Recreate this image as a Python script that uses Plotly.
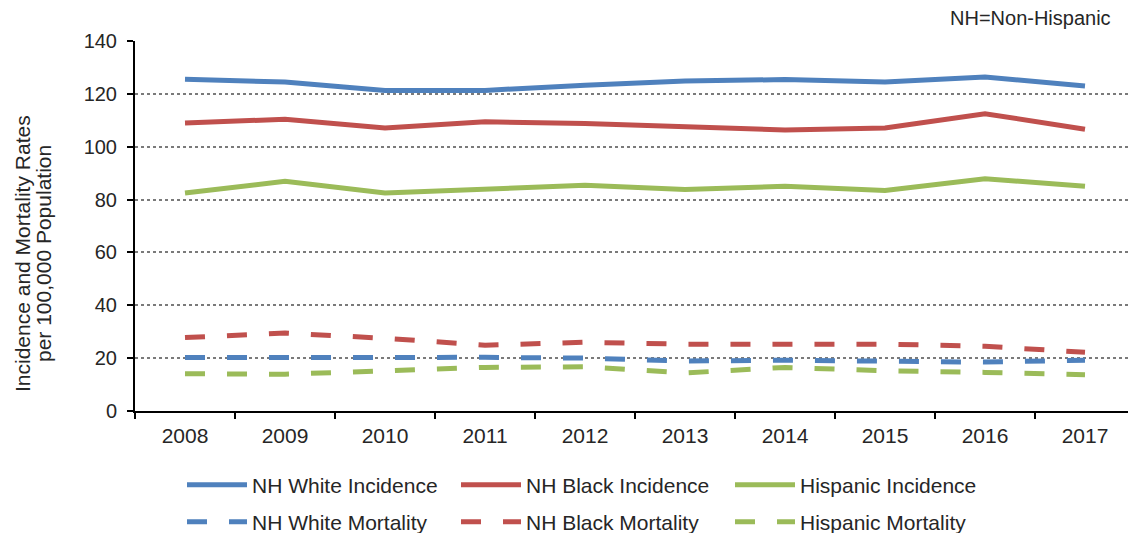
import plotly.graph_objects as go

years = ["2008", "2009", "2010", "2011", "2012", "2013", "2014", "2015", "2016", "2017"]

nh_white_incidence = [125.5, 124.5, 121.3, 121.3, 123.3, 124.9, 125.4, 124.5, 126.4, 123.0]
nh_black_incidence = [109.0, 110.4, 107.1, 109.4, 108.8, 107.5, 106.3, 107.1, 112.5, 106.6]
hispanic_incidence = [82.5, 86.9, 82.5, 84.0, 85.4, 83.8, 85.0, 83.4, 87.9, 85.0]

nh_white_mortality = [20.2, 20.3, 20.3, 20.3, 20.0, 18.9, 19.2, 18.8, 18.5, 19.2]
nh_black_mortality = [27.8, 29.5, 27.5, 24.9, 26.0, 25.3, 25.3, 25.3, 24.5, 22.2]
hispanic_mortality = [14.1, 13.9, 15.2, 16.5, 16.7, 14.4, 16.5, 15.2, 14.6, 13.7]

y_title_lines = ["Incidence and Mortality Rates", "per 100,000 Population"]

BLUE = "#4F81BD"
RED = "#C0504D"
GREEN = "#9BBB59"
FONT = "Liberation Sans, Arial, sans-serif"
TXT = "#262626"

fig = go.Figure()

series = [
    ("NH White Incidence", nh_white_incidence, BLUE, "solid", "legend"),
    ("NH Black Incidence", nh_black_incidence, RED, "solid", "legend"),
    ("Hispanic Incidence", hispanic_incidence, GREEN, "solid", "legend"),
    ("NH White Mortality", nh_white_mortality, BLUE, "20px,22px", "legend2"),
    ("NH Black Mortality", nh_black_mortality, RED, "20px,22px", "legend2"),
    ("Hispanic Mortality", hispanic_mortality, GREEN, "20px,22px", "legend2"),
]
for name, vals, color, dash, leg in series:
    fig.add_trace(go.Scatter(
        x=years, y=vals, name=name, mode="lines",
        line=dict(color=color, width=5, dash=dash),
        legend=leg,
    ))

W, H = 1128, 533
L, R, T, B = 135, 0, 41, 122
pw = W - L - R
ph = H - T - B

def px_x(p):
    return (p - L) / pw

def px_y(p):
    return (H - B - p) / ph

leg_common = dict(
    orientation="h", xanchor="left", yanchor="middle",
    entrywidth=199, entrywidthmode="pixels", font=dict(size=21, color=TXT),
    bgcolor="rgba(0,0,0,0)", itemwidth=60,
)

annotations = [
    dict(text="NH=Non-Hispanic", x=px_x(1113), y=px_y(18), xref="paper", yref="paper",
         xanchor="right", yanchor="middle", showarrow=False, font=dict(size=20, color=TXT)),
]
for line_text, xp in zip(y_title_lines, [22, 43]):
    annotations.append(dict(
        text=line_text, x=px_x(xp), y=px_y(254), xref="paper", yref="paper",
        xanchor="center", yanchor="middle", textangle=-90, showarrow=False,
        font=dict(size=21, color=TXT),
    ))

fig.update_layout(
    width=W, height=H,
    margin=dict(l=L, r=R, t=T, b=B, autoexpand=False),
    paper_bgcolor="white", plot_bgcolor="white",
    font=dict(family=FONT, size=20, color=TXT),
    xaxis=dict(
        type="category", range=[-0.5, -0.5 + pw / 100.0],
        tickson="boundaries", ticks="outside", ticklen=6, tickwidth=1.5, tickcolor="black",
        showline=True, linecolor="black", linewidth=2,
        showgrid=False, tickfont=dict(size=21, color=TXT), ticklabelstandoff=5,
    ),
    yaxis=dict(
        range=[0, 140], dtick=20, ticks="outside", ticklen=6, tickwidth=1.5, tickcolor="black",
        showline=True, linecolor="black", linewidth=2, zeroline=False,
        showgrid=True, gridcolor="#7a7a7a", griddash="dot", gridwidth=1.5,
        ticklabelstandoff=6, tickfont=dict(size=20, color=TXT),
    ),
    legend=dict(x=px_x(182), y=px_y(485), **leg_common),
    legend2=dict(x=px_x(182), y=px_y(522), **leg_common),
    annotations=annotations,
)

fig.write_html("out.html")
